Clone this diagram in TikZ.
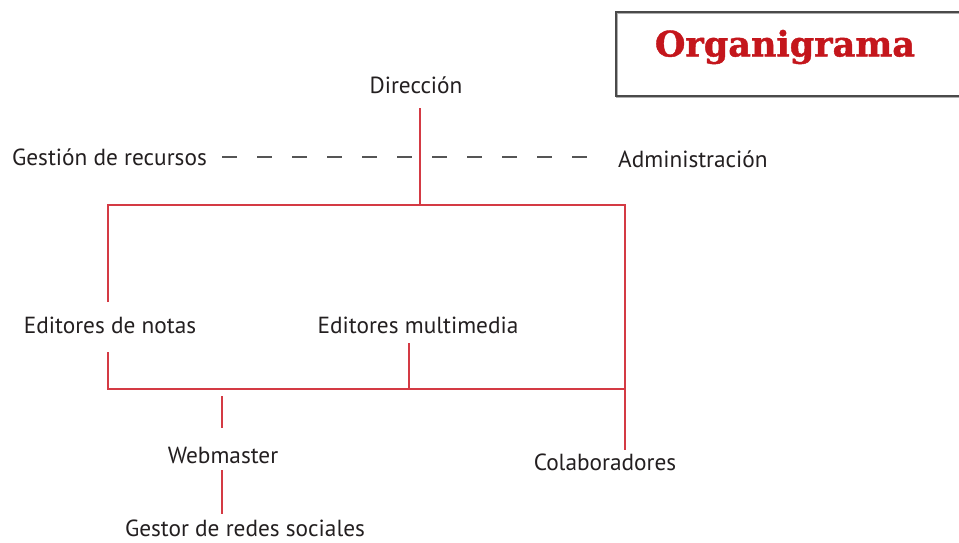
\documentclass[tikz,border=0pt]{standalone}
\usepackage{fontspec}
\setmainfont{PT Sans}
\newfontfamily\titlefont[FakeBold=1.2]{DejaVu Serif}
\definecolor{linered}{HTML}{D43A44}
\definecolor{titlered}{HTML}{C4161C}
\definecolor{txt}{HTML}{231F20}
\definecolor{boxgray}{HTML}{4A4A4A}
\definecolor{dashgray}{HTML}{555555}
\begin{document}
\begin{tikzpicture}[x=1pt,y=-1pt,
  lbl/.style={font=\fontsize{23.3}{26}\selectfont, text=txt, inner sep=0pt},
  link/.style={draw=linered, line width=2pt},
  dashlink/.style={draw=dashgray, line width=2pt, dash pattern=on 15pt off 20pt}]
\useasboundingbox (0,0) rectangle (959,542);
\fill[white] (0,0) rectangle (959,542);
% title box
\draw[boxgray!45, line width=1.5pt] (617,13) rectangle (968,97);
\node[draw=boxgray, line width=2pt, minimum width=352pt, minimum height=84pt, anchor=north west, inner sep=0pt] (titlebox) at (615,11) {};
\node[font=\titlefont\bfseries\fontsize{35}{40}\selectfont, text=titlered] (title) at (785,47) {Organigrama};
% labels
\node[lbl] (dir) at (416,85) {Dirección};
\node[lbl, anchor=east] (gest) at (207,157) {Gestión de recursos};
\node[lbl, anchor=west] (adm) at (618,159) {Administración};
\node[lbl] (edn) at (110,325) {Editores de notas};
\node[lbl] (edm) at (418,325) {Editores multimedia};
\node[lbl] (web) at (223,455) {Webmaster};
\node[lbl] (ges) at (245,528) {Gestor de redes sociales};
\node[lbl] (col) at (605,462) {Colaboradores};
% coordinates
\coordinate (dirtop) at (420,108);
\coordinate (dirj) at (420,205);
\coordinate (tl) at (108,205);
\coordinate (tr) at (625,205);
\coordinate (ednup) at (108,302);
\coordinate (edndn) at (108,352);
\coordinate (bl) at (108,389);
\coordinate (br) at (625,389);
\coordinate (edmdn) at (409,343);
\coordinate (edmj) at (409,389);
\coordinate (colend) at (625,450);
\coordinate (webtop) at (222,396);
\coordinate (webup) at (222,428);
\coordinate (webdn) at (222,470);
\coordinate (gesup) at (222,514);
\coordinate (dashl) at (222,157);
\coordinate (dashr) at (597,157);
% connectors
\draw[dashlink] (dashl) -- (dashr);
\draw[link] (dirtop) -- (dirj);
\draw[link] (ednup) -- (tl) -- (tr) -- (colend);
\draw[link] (edndn) -- (bl) -- (br);
\draw[link] (edmdn) -- (edmj);
\draw[link] (webtop) -- (webup);
\draw[link] (webdn) -- (gesup);
\end{tikzpicture}
\end{document}
